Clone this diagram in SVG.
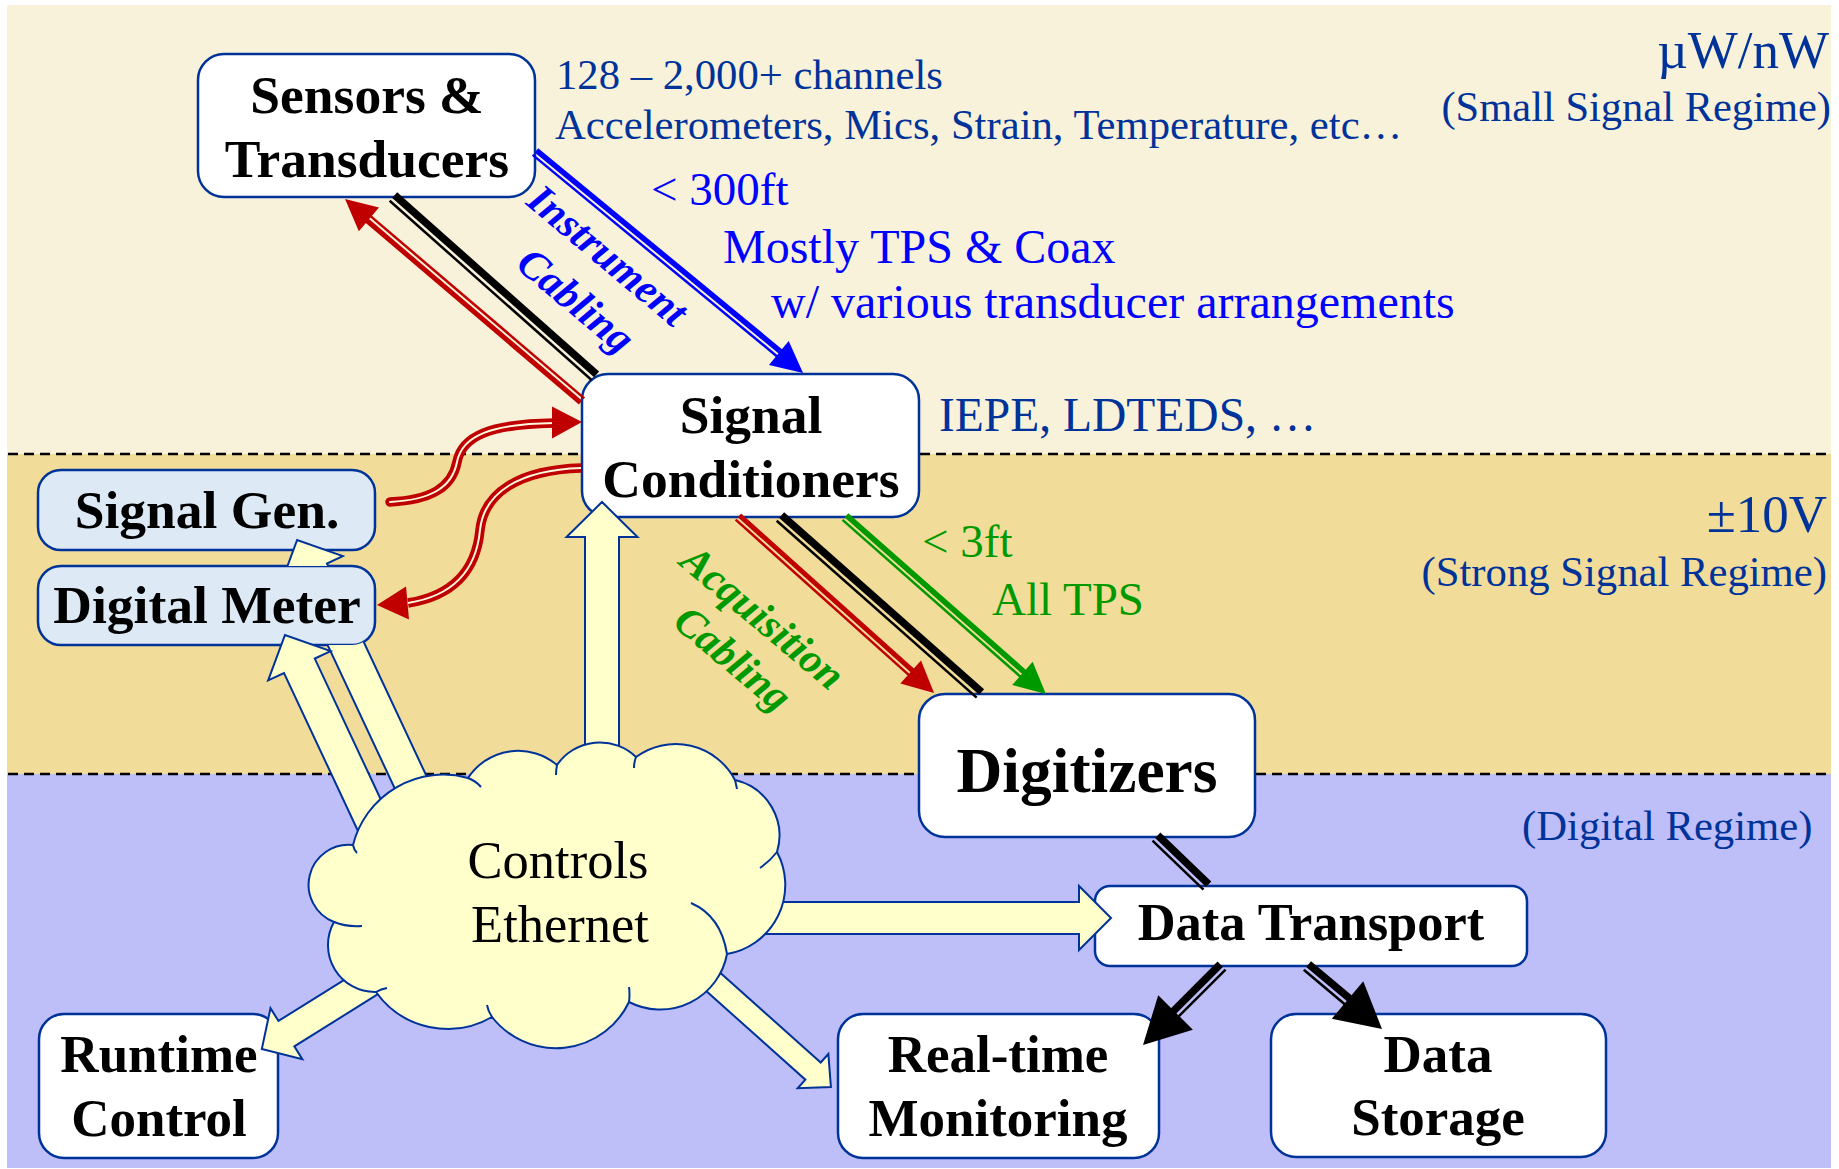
<svg xmlns="http://www.w3.org/2000/svg" width="1839" height="1169" viewBox="0 0 1839 1169">
<style>
.t{font-family:'Liberation Serif','Times New Roman',serif}
.b{font-weight:bold;text-anchor:middle;fill:#000}
.bi{font-weight:bold;font-style:italic;text-anchor:middle}
.dk{fill:#003399}
.bl{fill:#0000FF}
.gr{fill:#009900}
.box{fill:#FFFFFF;stroke:#003399;stroke-width:2.5}
.lb{fill:#DDEAF6;stroke:#003399;stroke-width:2.5}
.ya{fill:#FFFFCC;stroke:#003399;stroke-width:2;stroke-linejoin:miter}
.dash{stroke:#000;stroke-width:2.5;stroke-dasharray:10 6;fill:none}
</style>
<defs>
<clipPath id="clipB">
<path clip-rule="evenodd" d="M0,0 H1839 V1169 H0 Z M61,566 H352 A23 23 0 0 1 375 589 V622 A23 23 0 0 1 352 645 H61 A23 23 0 0 1 38 622 V589 A23 23 0 0 1 61 566 Z"/>
</clipPath>
</defs>
<rect width="1839" height="1169" fill="#FFFFFF"/>
<g id="background">
<rect x="7" y="5" width="1824" height="449" fill="#F9F2DB"/>
<rect x="7" y="454" width="1824" height="320" fill="#F1DC99"/>
<rect x="7" y="774" width="1824" height="394" fill="#BEBEF9"/>
<line class="dash" x1="8" y1="454" x2="1830" y2="454"/>
<line class="dash" x1="8" y1="774" x2="1830" y2="774"/>
</g>
<g id="labels" class="t">
<text class="dk" x="556" y="89" font-size="42.7">128 – 2,000+ channels</text>
<text class="dk" x="555" y="139" font-size="42.7">Accelerometers, Mics, Strain, Temperature, etc…</text>
<text class="bl" x="651" y="205" font-size="47">&lt; 300ft</text>
<text class="bl" x="723" y="263" font-size="48">Mostly TPS &amp; Coax</text>
<text class="bl" x="771" y="318" font-size="48">w/ various transducer arrangements</text>
<text class="dk" x="1829" y="68" font-size="53" text-anchor="end">µW/nW</text>
<text class="dk" x="1831" y="121" font-size="42.5" text-anchor="end">(Small Signal Regime)</text>
<text class="dk" x="939" y="431" font-size="47.5">IEPE, LDTEDS, …</text>
<text class="dk" x="1827" y="532" font-size="53" text-anchor="end">±10V</text>
<text class="dk" x="1827" y="586" font-size="42.7" text-anchor="end">(Strong Signal Regime)</text>
<text class="gr" x="922" y="557" font-size="47">&lt; 3ft</text>
<text class="gr" x="992" y="615" font-size="47">All TPS</text>
<text class="dk" x="1522" y="840" font-size="42.7">(Digital Regime)</text>
<text class="bi bl" font-size="42" transform="translate(599,266) rotate(40)">Instrument</text>
<text class="bi bl" font-size="42" transform="translate(567,311) rotate(40)">Cabling</text>
<text class="bi gr" font-size="42" transform="translate(754,628) rotate(40)">Acquisition</text>
<text class="bi gr" font-size="42" transform="translate(724,669) rotate(40)">Cabling</text>
</g>
<g id="node-sensors">
<rect class="box" x="198" y="54" width="337" height="143" rx="26"/>
<text class="t b" x="367" y="113" font-size="53.5">Sensors &amp;</text>
<text class="t b" x="367" y="177" font-size="53.5">Transducers</text>
</g>
<g id="node-signal-conditioners">
<rect class="box" x="582" y="374" width="337" height="143" rx="26"/>
<text class="t b" x="751" y="433" font-size="53.5">Signal</text>
<text class="t b" x="751" y="497" font-size="53.5">Conditioners</text>
</g>
<g id="node-signal-gen">
<rect class="lb" x="38" y="470" width="337" height="80" rx="23"/>
<text class="t b" x="207" y="528" font-size="53.5">Signal Gen.</text>
</g>
<g id="node-digital-meter">
<rect class="lb" x="38" y="566" width="337" height="79" rx="23"/>
<text class="t b" x="207" y="623" font-size="53.5">Digital Meter</text>
</g>
<g id="node-digitizers">
<rect class="box" x="919" y="694" width="336" height="143" rx="26"/>
<text class="t b" x="1087" y="792" font-size="63.5">Digitizers</text>
</g>
<g id="node-data-transport">
<rect class="box" x="1095" y="886" width="432" height="80" rx="15"/>
<text class="t b" x="1311" y="940" font-size="52.5">Data Transport</text>
</g>
<g id="node-realtime">
<rect class="box" x="838" y="1014" width="321" height="144" rx="25"/>
<text class="t b" x="998" y="1072" font-size="53">Real-time</text>
<text class="t b" x="998" y="1136" font-size="53">Monitoring</text>
</g>
<g id="node-data-storage">
<rect class="box" x="1271" y="1014" width="335" height="143" rx="25"/>
<text class="t b" x="1438" y="1072" font-size="53">Data</text>
<text class="t b" x="1438" y="1135" font-size="53">Storage</text>
</g>
<g id="node-runtime">
<rect class="box" x="39" y="1014" width="239" height="144" rx="25"/>
<text class="t b" x="159" y="1072" font-size="53">Runtime</text>
<text class="t b" x="159" y="1136" font-size="53">Control</text>
</g>
<g id="connectors">
<g id="c-instr-blue" transform="translate(535,152) rotate(39.5)" stroke="#0000FF" fill="#0000FF">
<line x1="0" y1="-2.25" x2="318" y2="-2.25" stroke-width="5.5"/>
<line x1="0" y1="3.75" x2="318" y2="3.75" stroke-width="2.5"/>
<polygon stroke="none" points="347.4,0 316,-15.5 316,15.5"/>
</g>
<g id="c-instr-black" transform="translate(393,197) rotate(41.6)" stroke="#000">
<line x1="0" y1="-2.5" x2="270" y2="-2.5" stroke-width="7.5"/>
<line x1="0" y1="5" x2="270" y2="5" stroke-width="2.5"/>
</g>
<g id="c-instr-red" transform="translate(582,401) rotate(-139.55)" stroke="#C00000" fill="#C00000">
<line x1="0" y1="-2.25" x2="282" y2="-2.25" stroke-width="5"/>
<line x1="0" y1="3.5" x2="282" y2="3.5" stroke-width="2.5"/>
<polygon stroke="none" points="311.4,0 280,-15.5 280,15.5"/>
</g>
<g id="c-acq-red" transform="translate(738,517) rotate(41.9)" stroke="#C00000" fill="#C00000">
<line x1="0" y1="-2.25" x2="234" y2="-2.25" stroke-width="5"/>
<line x1="0" y1="3.5" x2="234" y2="3.5" stroke-width="2.5"/>
<polygon stroke="none" points="263.4,0 232,-15.5 232,15.5"/>
</g>
<g id="c-acq-black" transform="translate(780,517) rotate(41.5)" stroke="#000">
<line x1="0" y1="-2.5" x2="267" y2="-2.5" stroke-width="7.5"/>
<line x1="0" y1="5" x2="267" y2="5" stroke-width="2.5"/>
</g>
<g id="c-acq-green" transform="translate(845,517) rotate(41.4)" stroke="#009900" fill="#009900">
<line x1="0" y1="-2.25" x2="238" y2="-2.25" stroke-width="5.5"/>
<line x1="0" y1="3.75" x2="238" y2="3.75" stroke-width="2.5"/>
<polygon stroke="none" points="267.8,0 236.5,-15.5 236.5,15.5"/>
</g>
<g id="c-dig-dt" transform="translate(1156,837) rotate(43.9)" stroke="#000">
<line x1="0" y1="-2.5" x2="70.7" y2="-2.5" stroke-width="7.5"/>
<line x1="0" y1="5" x2="70.7" y2="5" stroke-width="2.5"/>
</g>
<g id="c-dt-rt" transform="translate(1222,966) rotate(135)" stroke="#000" fill="#000">
<line x1="0" y1="2.5" x2="68" y2="2.5" stroke-width="7.5"/>
<line x1="0" y1="-5" x2="68" y2="-5" stroke-width="2.5"/>
<polygon stroke="none" points="111.7,0 65.7,-24.5 65.7,24.5"/>
</g>
<g id="c-dt-ds" transform="translate(1307,966) rotate(40)" stroke="#000" fill="#000">
<line x1="0" y1="-2.5" x2="55" y2="-2.5" stroke-width="7.5"/>
<line x1="0" y1="5" x2="55" y2="5" stroke-width="2.5"/>
<polygon stroke="none" points="97.9,0 52.9,-24.5 52.9,24.5"/>
</g>
<g id="c-gen-sc">
<path d="M390,502 C430,500 452,488 457,462 C462,436 490,424 554,423" fill="none" stroke="#C00000" stroke-width="9.5" stroke-linecap="round"/>
<path d="M390,502 C430,500 452,488 457,462 C462,436 490,424 554,423" fill="none" stroke="#FDF6E0" stroke-width="2" stroke-linecap="round"/>
<polygon fill="#C00000" points="582,422 552,406.5 552,438.5"/>
</g>
<g id="c-sc-meter">
<path d="M581,468 C520,470 484,492 480,530 C476,572 452,596 408,603" fill="none" stroke="#C00000" stroke-width="9.5"/>
<path d="M581,468 C520,470 484,492 480,530 C476,572 452,596 408,603" fill="none" stroke="#FDF6E0" stroke-width="2"/>
<polygon fill="#C00000" points="377,605 406,586.5 409,619.5"/>
</g>
<polygon id="c-eth-sc" class="ya" transform="translate(602,770) rotate(-90)" points="0,-17 233,-17 233,-35.5 268,0 233,35.5 233,17 0,17"/>
<g id="c-eth-gen" clip-path="url(#clipB)">
<polygon class="ya" transform="translate(433,830) rotate(-115.1)" points="0,-17 286.3,-17 286.3,-34.5 320.3,0 286.3,34.5 286.3,17 0,17"/>
</g>
<polygon id="c-eth-meter" class="ya" transform="translate(381,840) rotate(-115.1)" points="0,-17 192.4,-17 192.4,-34.5 226.4,0 192.4,34.5 192.4,17 0,17"/>
<polygon id="c-eth-dt" class="ya" transform="translate(760,918)" points="0,-16 319,-16 319,-32 351,0 319,32 319,16 0,16"/>
<polygon id="c-eth-rt" class="ya" transform="translate(691,962) rotate(41.8)" points="0,-11.5 163.7,-11.5 163.7,-23 187.7,0 163.7,23 163.7,11.5 0,11.5"/>
<polygon id="c-eth-runtime" class="ya" transform="translate(383.5,973) rotate(148)" points="0,-15 114.5,-15 114.5,-30 143.5,0 114.5,30 114.5,15 0,15"/>
</g>
<g id="node-cloud">
<path fill="#FFFFCC" stroke="#003399" stroke-width="2" d="M334,922 A40 40 0 0 1 353,845 A93 93 0 0 1 468,778 A60 60 0 0 1 557,765 A52 52 0 0 1 636,757 A67 67 0 0 1 735,780 A57 57 0 0 1 777,852 A70 70 0 0 1 727,954 A68 68 0 0 1 629,1002 A81 81 0 0 1 492,1017 A88 88 0 0 1 376,992 A47 47 0 0 1 334,922 Z"/>
<path fill="none" stroke="#003399" stroke-width="2" d="M334,922 Q346,927 362,926 M353,845 Q354,850 357,853 M468,778 Q476,781 481,787 M557,765 Q556,770 556,775 M636,757 Q634,762 634,768 M735,780 Q736,784 737,789 M777,852 Q770,861 760,868 M691,903 Q721,916 727,954 M629,987 Q630,994 629,1002 M492,1017 Q488,1011 487,1005 M376,992 Q381,989 387,988"/>
<text class="t" x="558" y="878" font-size="52.5" text-anchor="middle">Controls</text>
<text class="t" x="560" y="942" font-size="52.5" text-anchor="middle">Ethernet</text>
</g>
</svg>
